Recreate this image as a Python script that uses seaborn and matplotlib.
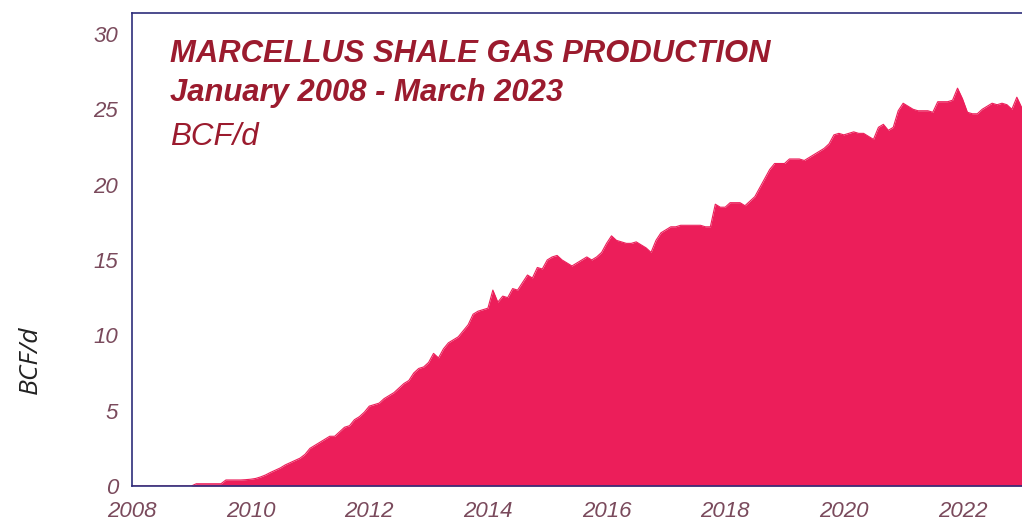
import numpy as np
import pandas as pd
import matplotlib
matplotlib.use("Agg")
import matplotlib.pyplot as plt
import seaborn as sns

# Monthly Marcellus production, BCF/d, Jan 2008 - Mar 2023
v2008 = [0.0] * 12
v2009 = [0.0, 0.15, 0.15, 0.15, 0.15, 0.15, 0.15, 0.4, 0.4, 0.4, 0.4, 0.42]
v2010 = [0.45, 0.5, 0.6, 0.73, 0.9, 1.05, 1.2, 1.4, 1.55, 1.7, 1.85, 2.1]
v2011 = [2.5, 2.7, 2.9, 3.1, 3.3, 3.3, 3.6, 3.9, 4.0, 4.4, 4.6, 4.9]
v2012 = [5.3, 5.4, 5.5, 5.8, 6.0, 6.2, 6.5, 6.8, 7.0, 7.5, 7.8, 7.9]
v2013 = [8.2, 8.8, 8.5, 9.1, 9.5, 9.7, 9.9, 10.3, 10.7, 11.4, 11.6, 11.7]
v2014 = [11.8, 13.0, 12.2, 12.6, 12.5, 13.1, 13.0, 13.5, 14.0, 13.8, 14.5, 14.4]
v2015 = [15.0, 15.2, 15.3, 15.0, 14.8, 14.6, 14.8, 15.0, 15.2, 15.0, 15.2, 15.5]
v2016 = [16.1, 16.6, 16.3, 16.2, 16.1, 16.1, 16.2, 16.0, 15.8, 15.5, 16.3, 16.8]
v2017 = [17.0, 17.2, 17.2, 17.3, 17.3, 17.3, 17.3, 17.3, 17.2, 17.2, 18.7, 18.5]
v2018 = [18.5, 18.8, 18.8, 18.8, 18.6, 18.9, 19.2, 19.8, 20.4, 21.0, 21.4, 21.4]
v2019 = [21.4, 21.7, 21.7, 21.7, 21.6, 21.8, 22.0, 22.2, 22.4, 22.7, 23.3, 23.4]
v2020 = [23.3, 23.4, 23.5, 23.4, 23.4, 23.2, 23.0, 23.8, 24.0, 23.6, 23.8, 24.9]
v2021 = [25.4, 25.2, 25.0, 24.9, 24.9, 24.9, 24.8, 25.5, 25.5, 25.5, 25.6, 26.4]
v2022 = [25.7, 24.8, 24.7, 24.7, 25.0, 25.2, 25.4, 25.3, 25.4, 25.3, 25.0, 25.8]
v2023 = [25.1, 25.3, 25.5]

production = (v2008 + v2009 + v2010 + v2011 + v2012 + v2013 + v2014 + v2015
              + v2016 + v2017 + v2018 + v2019 + v2020 + v2021 + v2022 + v2023)
years = 2008 + np.arange(len(production)) / 12.0
df = pd.DataFrame({"year": years, "bcfd": production})

y_ticks = [0, 5, 10, 15, 20, 25, 30]
x_ticks = [2008, 2010, 2012, 2014, 2016, 2018, 2020, 2022]
title_lines = ["MARCELLUS SHALE GAS PRODUCTION", "January 2008 - March 2023", "BCF/d"]

FILL = "#EC1E5A"
TITLE_RED = "#9B1B2E"
TICK_COLOR = "#7A4A5C"
SPINE = "#2E2D7A"

sns.set_style("white")
plt.rcParams["font.family"] = ["Liberation Sans Narrow", "Liberation Sans", "DejaVu Sans"]

fig = plt.figure(figsize=(10.22, 5.22), dpi=100)
ax = fig.add_axes([132 / 1022, 1 - 486 / 522, 1 - 132 / 1022 + 0.02, (486 - 13) / 522])

ax.fill_between(df["year"], 0, df["bcfd"], color=FILL, linewidth=0)
sns.lineplot(data=df, x="year", y="bcfd", ax=ax, color=FILL, linewidth=0.8)

ax.set_xlim(2008, 2008 + (1022 - 132) / 59.3 + 0.34)
ax.set_ylim(0, (486 - 13) / 15.07)
ax.set_xticks(x_ticks)
ax.set_yticks(y_ticks)
ax.set_xticklabels([str(t) for t in x_ticks], fontstyle="italic", fontsize=16, color=TICK_COLOR)
ax.set_yticklabels([str(t) for t in y_ticks], fontstyle="italic", fontsize=16, color=TICK_COLOR)
ax.tick_params(axis="both", length=0)
ax.tick_params(axis="x", pad=11)
ax.tick_params(axis="y", pad=10)
ax.set_xlabel("")
ax.set_ylabel("")
for side in ["left", "bottom", "top"]:
    ax.spines[side].set_color(SPINE)
    ax.spines[side].set_linewidth(1.2)
ax.spines["right"].set_visible(False)

# title block inside the plot area
tx = 170 / 1022
fig.text(tx, 1 - 62 / 522, title_lines[0], family=["Liberation Sans", "DejaVu Sans"],
         fontsize=22.3, fontweight="bold", fontstyle="italic", color=TITLE_RED, va="baseline")
fig.text(tx, 1 - 101 / 522, title_lines[1], family=["Liberation Sans", "DejaVu Sans"],
         fontsize=22.3, fontweight="bold", fontstyle="italic", color=TITLE_RED, va="baseline")
fig.text(tx, 1 - 145 / 522, title_lines[2], family=["Liberation Sans", "DejaVu Sans"],
         fontsize=22.5, fontstyle="italic", color=TITLE_RED, va="baseline")

# outer axis label
fig.text(30 / 1022, 1 - 360 / 522, "BCF/d", family=["Open Sans", "DejaVu Sans"],
         fontsize=19, fontstyle="italic", color="#222222", rotation=90,
         ha="center", va="center")

fig.savefig("out.png", dpi=100, facecolor="white")
